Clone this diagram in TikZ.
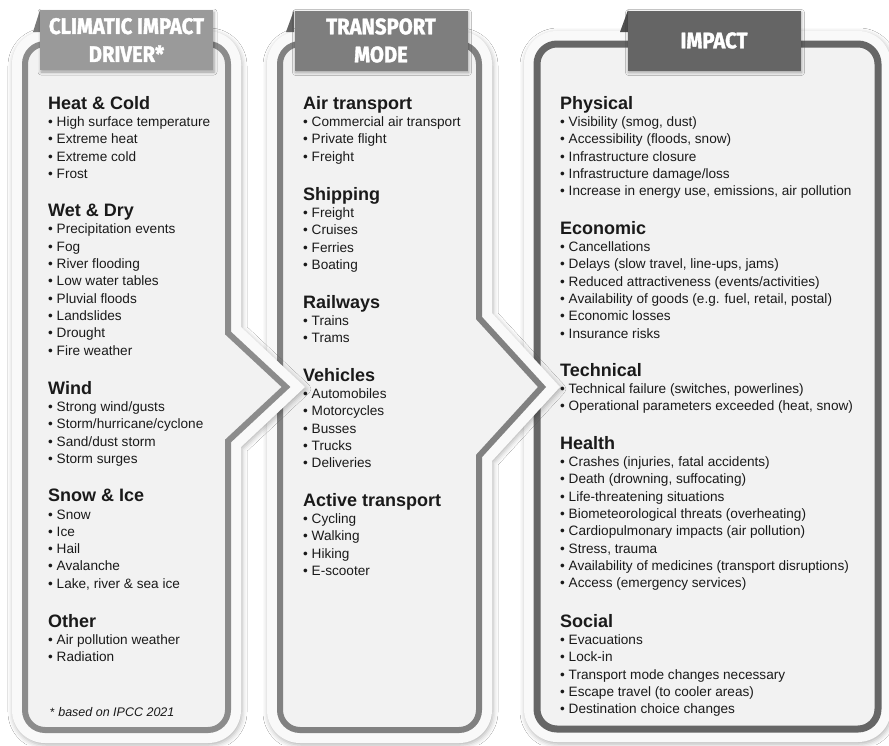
\documentclass[tikz,border=0pt]{standalone}
\usepackage{fontspec}
\setmainfont{Liberation Sans}
\newfontfamily\hdrfont[FakeStretch=0.9,FakeBold=1.6]{Fira Sans}
\usepackage{xcolor}
\usepackage{tikz}
\usetikzlibrary{shadows.blur}

\definecolor{bandfill}{HTML}{F9F9F9}
\definecolor{panelfill}{HTML}{F2F2F2}
\definecolor{bodytext}{HTML}{1A1A1A}
\definecolor{cidline}{HTML}{8C8C8C}
\definecolor{tmline}{HTML}{818181}
\definecolor{impline}{HTML}{666666}
\definecolor{cidhdr}{HTML}{9A9A9A}
\definecolor{tmhdr}{HTML}{7E7E7E}
\definecolor{imphdr}{HTML}{656565}

\newcommand{\hd}[1]{{\fontsize{18}{17.3}\selectfont\bfseries #1}}

\begin{document}
\begin{tikzpicture}[x=1pt,y=-1pt,
  band/.style={fill=bandfill,blur shadow={shadow xshift=1pt,shadow yshift=-2pt,shadow blur radius=5pt,shadow opacity=30}},
  panel/.style={fill=panelfill,line width=6pt},
  hdr/.style={inner sep=0pt,minimum width=173pt,minimum height=60pt,text=white,align=center,
    font=\hdrfont\bfseries\fontsize{22.5}{28}\selectfont,
    blur shadow={shadow xshift=1pt,shadow yshift=-2pt,shadow blur radius=3pt,shadow opacity=35}},
  grp/.style={anchor=north west,align=left,inner sep=0pt,text=bodytext,font=\fontsize{13.6}{17.3}\selectfont}]
  \useasboundingbox[fill=white] (0,0) rectangle (889,745);

  % panels, right to left so each chevron lies on top
  \fill[band,rounded corners=33pt] (524,31) rectangle (891,742);
  \draw[panel,draw=impline,line width=7pt,rounded corners=20pt] (537,44) rectangle (878,729);

  \fill[band] (492,461) [rounded corners=33pt] -- (492,743) -- (267,743) -- (267,31) -- (492,31) [sharp corners] -- (492,313) -- (560,387) -- cycle;
  \draw[panel,draw=tmline] (479,456) [rounded corners=20pt] -- (479,730) -- (280,730) -- (280,44) -- (479,44) [sharp corners] -- (479,318) -- (542,387) -- cycle;

  \fill[band] (241,447) [rounded corners=33pt] -- (241,743) -- (12,743) -- (12,31) -- (241,31) [sharp corners] -- (241,327) -- (305,387) -- cycle;
  \draw[panel,draw=cidline] (228,441) [rounded corners=20pt] -- (228,730) -- (25,730) -- (25,44) -- (228,44) [sharp corners] -- (228,333) -- (286,387) -- cycle;

  % headers
  \fill[cidhdr!80!black] (33,32) -- (40,10) -- (40,32) -- cycle;
  \node[hdr,fill=cidhdr] (cidhead) at (126.5,40) {CLIMATIC IMPACT\\DRIVER*};
  \fill[tmhdr!80!black] (286,32) -- (294,10) -- (294,32) -- cycle;
  \node[hdr,fill=tmhdr] (tmhead) at (381,40.5) {TRANSPORT\\MODE};
  \fill[imphdr!80!black] (620,32) -- (628,10) -- (628,32) -- cycle;
  \node[hdr,fill=imphdr] (imphead) at (714,40.5) {IMPACT};

  % climatic impact drivers
  \node[grp] (heat) at (48,96) {\hd{Heat \& Cold}\\• High surface temperature\\• Extreme heat\\• Extreme cold\\• Frost};
  \node[grp] (wet) at (48,204) {\hd{Wet \& Dry}\\• Precipitation events\\• Fog\\• River flooding\\• Low water tables\\• Pluvial floods\\• Landslides\\• Drought\\• Fire weather};
  \node[grp] (wind) at (48,381) {\hd{Wind}\\• Strong wind/gusts\\• Storm/hurricane/cyclone\\• Sand/dust storm\\• Storm surges};
  \node[grp] (snow) at (48,489) {\hd{Snow \& Ice}\\• Snow\\• Ice\\• Hail\\• Avalanche\\• Lake, river \& sea ice};
  \node[grp] (other) at (48,614) {\hd{Other}\\• Air pollution weather\\• Radiation};
  \node[anchor=west,inner sep=0pt,text=bodytext,font=\fontsize{12.5}{15}\selectfont] (ipcc) at (50,712) {{\large*} \itshape based on IPCC 2021};

  % transport modes
  \node[grp] (air) at (303,96) {\hd{Air transport}\\• Commercial air transport\\• Private flight\\• Freight};
  \node[grp] (ship) at (303,187) {\hd{Shipping}\\• Freight\\• Cruises\\• Ferries\\• Boating};
  \node[grp] (rail) at (303,295) {\hd{Railways}\\• Trains\\• Trams};
  \node[grp] (vehi) at (303,368) {\hd{Vehicles}\\• Automobiles\\• Motorcycles\\• Busses\\• Trucks\\• Deliveries};
  \node[grp] (active) at (303,493) {\hd{Active transport}\\• Cycling\\• Walking\\• Hiking\\• E-scooter};

  % impacts
  \node[grp] (phys) at (560,96) {\hd{Physical}\\• Visibility (smog, dust)\\• Accessibility (floods, snow)\\• Infrastructure closure\\• Infrastructure damage/loss\\• Increase in energy use, emissions, air pollution};
  \node[grp] (econ) at (560,221) {\hd{Economic}\\• Cancellations\\• Delays (slow travel, line-ups, jams)\\• Reduced attractiveness (events/activities)\\• Availability of goods (e.g. fuel, retail, postal)\\• Economic losses\\• Insurance risks};
  \node[grp] (tech) at (560,363) {\hd{Technical}\\• Technical failure (switches, powerlines)\\• Operational parameters exceeded (heat, snow)};
  \node[grp] (health) at (560,436) {\hd{Health}\\• Crashes (injuries, fatal accidents)\\• Death (drowning, suffocating)\\• Life-threatening situations\\• Biometeorological threats (overheating)\\• Cardiopulmonary impacts (air pollution)\\• Stress, trauma\\• Availability of medicines (transport disruptions)\\• Access (emergency services)};
  \node[grp] (social) at (560,614) {\hd{Social}\\• Evacuations\\• Lock-in\\• Transport mode changes necessary\\• Escape travel (to cooler areas)\\• Destination choice changes};
\end{tikzpicture}
\end{document}
